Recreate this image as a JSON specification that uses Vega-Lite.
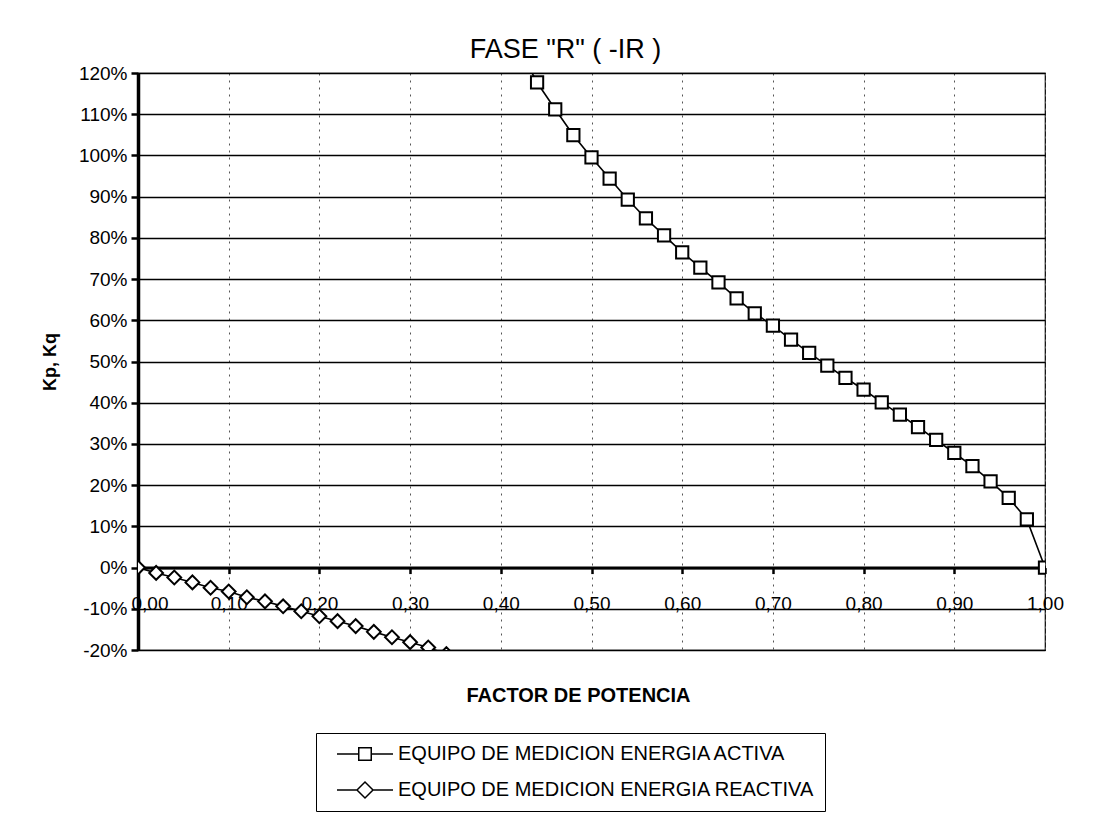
{
  "$schema": "https://vega.github.io/schema/vega-lite/v6.json",
  "width": 907,
  "height": 577,
  "autosize": "none",
  "padding": {"left": 138, "top": 73, "right": 73, "bottom": 178},
  "background": "white",
  "config": {
    "font": "Liberation Sans",
    "view": {"stroke": "black", "strokeWidth": 1.2}
  },
  "title": {
    "text": "FASE \"R\" ( -IR )",
    "fontSize": 27,
    "fontWeight": "normal",
    "font": "Liberation Sans",
    "color": "black",
    "offset": 0,
    "dx": -26
  },
  "data": {
    "values": [
      {"serie": "EQUIPO DE MEDICION ENERGIA ACTIVA", "fp": 0.42, "k": 126.0},
      {"serie": "EQUIPO DE MEDICION ENERGIA ACTIVA", "fp": 0.44, "k": 117.7},
      {"serie": "EQUIPO DE MEDICION ENERGIA ACTIVA", "fp": 0.46, "k": 111.2},
      {"serie": "EQUIPO DE MEDICION ENERGIA ACTIVA", "fp": 0.48, "k": 104.9},
      {"serie": "EQUIPO DE MEDICION ENERGIA ACTIVA", "fp": 0.50, "k": 99.5},
      {"serie": "EQUIPO DE MEDICION ENERGIA ACTIVA", "fp": 0.52, "k": 94.4},
      {"serie": "EQUIPO DE MEDICION ENERGIA ACTIVA", "fp": 0.54, "k": 89.3},
      {"serie": "EQUIPO DE MEDICION ENERGIA ACTIVA", "fp": 0.56, "k": 84.7},
      {"serie": "EQUIPO DE MEDICION ENERGIA ACTIVA", "fp": 0.58, "k": 80.6},
      {"serie": "EQUIPO DE MEDICION ENERGIA ACTIVA", "fp": 0.60, "k": 76.5},
      {"serie": "EQUIPO DE MEDICION ENERGIA ACTIVA", "fp": 0.62, "k": 72.8},
      {"serie": "EQUIPO DE MEDICION ENERGIA ACTIVA", "fp": 0.64, "k": 69.2},
      {"serie": "EQUIPO DE MEDICION ENERGIA ACTIVA", "fp": 0.66, "k": 65.3},
      {"serie": "EQUIPO DE MEDICION ENERGIA ACTIVA", "fp": 0.68, "k": 61.7},
      {"serie": "EQUIPO DE MEDICION ENERGIA ACTIVA", "fp": 0.70, "k": 58.7},
      {"serie": "EQUIPO DE MEDICION ENERGIA ACTIVA", "fp": 0.72, "k": 55.3},
      {"serie": "EQUIPO DE MEDICION ENERGIA ACTIVA", "fp": 0.74, "k": 52.1},
      {"serie": "EQUIPO DE MEDICION ENERGIA ACTIVA", "fp": 0.76, "k": 49.0},
      {"serie": "EQUIPO DE MEDICION ENERGIA ACTIVA", "fp": 0.78, "k": 46.0},
      {"serie": "EQUIPO DE MEDICION ENERGIA ACTIVA", "fp": 0.80, "k": 43.2},
      {"serie": "EQUIPO DE MEDICION ENERGIA ACTIVA", "fp": 0.82, "k": 40.1},
      {"serie": "EQUIPO DE MEDICION ENERGIA ACTIVA", "fp": 0.84, "k": 37.1},
      {"serie": "EQUIPO DE MEDICION ENERGIA ACTIVA", "fp": 0.86, "k": 34.1},
      {"serie": "EQUIPO DE MEDICION ENERGIA ACTIVA", "fp": 0.88, "k": 31.0},
      {"serie": "EQUIPO DE MEDICION ENERGIA ACTIVA", "fp": 0.90, "k": 27.8},
      {"serie": "EQUIPO DE MEDICION ENERGIA ACTIVA", "fp": 0.92, "k": 24.6},
      {"serie": "EQUIPO DE MEDICION ENERGIA ACTIVA", "fp": 0.94, "k": 20.9},
      {"serie": "EQUIPO DE MEDICION ENERGIA ACTIVA", "fp": 0.96, "k": 16.9},
      {"serie": "EQUIPO DE MEDICION ENERGIA ACTIVA", "fp": 0.98, "k": 11.7},
      {"serie": "EQUIPO DE MEDICION ENERGIA ACTIVA", "fp": 1.00, "k": 0.0},
      {"serie": "EQUIPO DE MEDICION ENERGIA REACTIVA", "fp": 0.00, "k": 0.0},
      {"serie": "EQUIPO DE MEDICION ENERGIA REACTIVA", "fp": 0.02, "k": -1.3},
      {"serie": "EQUIPO DE MEDICION ENERGIA REACTIVA", "fp": 0.04, "k": -2.4},
      {"serie": "EQUIPO DE MEDICION ENERGIA REACTIVA", "fp": 0.06, "k": -3.6},
      {"serie": "EQUIPO DE MEDICION ENERGIA REACTIVA", "fp": 0.08, "k": -4.9},
      {"serie": "EQUIPO DE MEDICION ENERGIA REACTIVA", "fp": 0.10, "k": -5.8},
      {"serie": "EQUIPO DE MEDICION ENERGIA REACTIVA", "fp": 0.12, "k": -7.2},
      {"serie": "EQUIPO DE MEDICION ENERGIA REACTIVA", "fp": 0.14, "k": -8.2},
      {"serie": "EQUIPO DE MEDICION ENERGIA REACTIVA", "fp": 0.16, "k": -9.4},
      {"serie": "EQUIPO DE MEDICION ENERGIA REACTIVA", "fp": 0.18, "k": -10.6},
      {"serie": "EQUIPO DE MEDICION ENERGIA REACTIVA", "fp": 0.20, "k": -11.8},
      {"serie": "EQUIPO DE MEDICION ENERGIA REACTIVA", "fp": 0.22, "k": -13.0},
      {"serie": "EQUIPO DE MEDICION ENERGIA REACTIVA", "fp": 0.24, "k": -14.2},
      {"serie": "EQUIPO DE MEDICION ENERGIA REACTIVA", "fp": 0.26, "k": -15.6},
      {"serie": "EQUIPO DE MEDICION ENERGIA REACTIVA", "fp": 0.28, "k": -16.9},
      {"serie": "EQUIPO DE MEDICION ENERGIA REACTIVA", "fp": 0.30, "k": -18.1},
      {"serie": "EQUIPO DE MEDICION ENERGIA REACTIVA", "fp": 0.32, "k": -19.4},
      {"serie": "EQUIPO DE MEDICION ENERGIA REACTIVA", "fp": 0.34, "k": -21.0},
      {"serie": "EQUIPO DE MEDICION ENERGIA REACTIVA", "fp": 0.36, "k": -22.2}
    ]
  },
  "layer": [
    {
      "mark": {"type": "line", "color": "black", "strokeWidth": 1.6, "clip": true},
      "encoding": {
        "x": {
          "field": "fp",
          "type": "quantitative",
          "scale": {"domain": [0, 1], "nice": false, "zero": false},
          "axis": {
            "title": "FACTOR DE POTENCIA",
            "values": [0, 0.1, 0.2, 0.3, 0.4, 0.5, 0.6, 0.7, 0.8, 0.9, 1],
            "labelExpr": "replace(format(datum.value, '.2f'), '.', ',')",
            "offset": -82.43,
            "domainColor": "black",
            "domainWidth": 3,
            "tickColor": "black",
            "tickSize": 6,
            "tickWidth": 2.5,
            "labelPadding": 21,
            "labelFontSize": 19,
            "labelColor": "black",
            "labelFont": "Liberation Sans",
            "labelOverlap": false,
            "labelFlush": false,
            "labelAlign": {"condition": {"test": "datum.value == 0", "value": "left"}, "value": "center"},
            "labelOffset": {"condition": {"test": "datum.value == 0", "value": -7}, "value": 0},
            "grid": true,
            "gridColor": "#555555",
            "gridDash": [2, 5],
            "gridWidth": 1,
            "titleFontSize": 20,
            "titleFontWeight": "bold",
            "titleColor": "black",
            "titleFont": "Liberation Sans",
            "titlePadding": 72,
            "titleX": 440
          }
        },
        "y": {
          "field": "k",
          "type": "quantitative",
          "scale": {"domain": [-20, 120], "nice": false, "zero": false},
          "axis": {
            "title": "Kp, Kq",
            "values": [-20, -10, 0, 10, 20, 30, 40, 50, 60, 70, 80, 90, 100, 110, 120],
            "labelExpr": "datum.value + '%'",
            "domainColor": "black",
            "domainWidth": 3.5,
            "tickColor": "black",
            "tickSize": 7,
            "tickWidth": 2.5,
            "labelPadding": 4,
            "labelFontSize": 19,
            "labelColor": "black",
            "labelFont": "Liberation Sans",
            "labelFlush": false,
            "grid": true,
            "gridColor": "black",
            "gridWidth": 1.3,
            "titleFontSize": 18,
            "titleFontWeight": "bold",
            "titleColor": "black",
            "titleFont": "Liberation Sans",
            "titlePadding": 19
          }
        },
        "detail": {"field": "serie", "type": "nominal"}
      }
    },
    {
      "transform": [{"filter": "datum.serie == 'EQUIPO DE MEDICION ENERGIA ACTIVA'"}],
      "mark": {"type": "point", "shape": "square", "filled": true, "fill": "white", "stroke": "black", "strokeWidth": 2, "size": 150, "opacity": 1, "clip": true},
      "encoding": {
        "x": {"field": "fp", "type": "quantitative"},
        "y": {"field": "k", "type": "quantitative"}
      }
    },
    {
      "transform": [{"filter": "datum.serie == 'EQUIPO DE MEDICION ENERGIA REACTIVA'"}],
      "mark": {"type": "point", "shape": "diamond", "filled": true, "fill": "white", "stroke": "black", "strokeWidth": 2, "size": 190, "opacity": 1, "clip": true},
      "encoding": {
        "x": {"field": "fp", "type": "quantitative"},
        "y": {"field": "k", "type": "quantitative"}
      }
    },
    {
      "mark": {"type": "point", "opacity": 0, "clip": true},
      "encoding": {
        "x": {"field": "fp", "type": "quantitative"},
        "y": {"field": "k", "type": "quantitative"},
        "shape": {
          "field": "serie",
          "type": "nominal",
          "scale": {
            "domain": ["EQUIPO DE MEDICION ENERGIA ACTIVA", "EQUIPO DE MEDICION ENERGIA REACTIVA"],
            "range": [
              "M0,0H2.175M3.425,0H5.6M2.175,-0.625H3.425V0.625H2.175Z",
              "M0,0H2M3.6,0H5.6M2,0L2.8,-0.8L3.6,0L2.8,0.8Z"
            ]
          },
          "legend": {
            "title": null,
            "orient": "none",
            "legendX": 178,
            "legendY": 660,
            "direction": "vertical",
            "strokeColor": "black",
            "fillColor": "white",
            "padding": 10,
            "rowPadding": 15,
            "labelFontSize": 20,
            "labelFont": "Liberation Sans",
            "labelColor": "black",
            "labelLimit": 0,
            "labelOffset": 50,
            "symbolSize": 400,
            "symbolStrokeWidth": 1.5,
            "symbolStrokeColor": "black",
            "symbolFillColor": "white",
            "symbolOpacity": 1,
            "encode": {
              "symbols": {
                "update": {
                  "fill": {"value": "white"},
                  "stroke": {"value": "black"},
                  "strokeWidth": {"value": 1.5},
                  "opacity": {"value": 1}
                }
              }
            }
          }
        }
      }
    }
  ]
}
